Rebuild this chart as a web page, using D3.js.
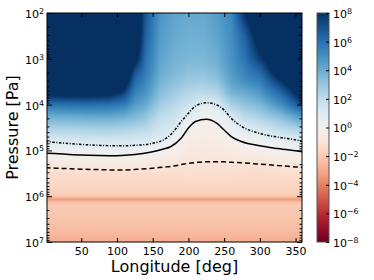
<!DOCTYPE html>
<html>
<head>
<meta charset="utf-8">
<script src="https://cdn.jsdelivr.net/npm/d3@7"></script>
<style>
  body { margin: 0; background: #fff; }
  svg text { font-family: "DejaVu Sans", sans-serif; fill: #000; }
</style>
</head>
<body>
<div id="chart"></div>
<script>
// longitude of each field column [deg]
const lons = [0, 30, 60, 90, 110, 125, 140, 160, 180, 200, 220, 240, 260, 280, 300, 330, 360];
// log10 pressure levels [Pa]
const levels = [2, 2.5, 3, 3.25, 3.5, 3.75, 4, 4.25, 4.5, 4.75, 5, 5.25, 5.5, 5.75, 5.95, 6.0, 6.07, 6.14, 6.2, 6.5, 6.75, 7];
// log10 of the mapped quantity, one row per longitude, one value per level
const field = [
  [10, 10, 10, 10, 10, 8.6, 5.8, 4.0, 2.6, 1.3, 0.25, -0.6, -1.3, -1.55, -1.85, -2.2, -3.4, -2.3, -2.0, -2.2, -2.5, -2.9],
  [10, 10, 10, 10, 10, 8.7, 6.0, 4.1, 2.7, 1.4, 0.35, -0.55, -1.35, -1.55, -1.85, -2.2, -3.4, -2.3, -2.0, -2.2, -2.5, -2.9],
  [10, 10, 10, 10, 10, 8.7, 6.1, 4.2, 2.8, 1.5, 0.4, -0.5, -1.35, -1.55, -1.85, -2.2, -3.4, -2.3, -2.0, -2.2, -2.5, -2.9],
  [10, 10, 10, 10, 10, 8.5, 6.0, 4.2, 2.8, 1.55, 0.45, -0.45, -1.4, -1.55, -1.85, -2.2, -3.4, -2.3, -2.0, -2.2, -2.5, -2.9],
  [10, 10, 10, 10, 9.2, 7.4, 5.6, 4.0, 2.7, 1.5, 0.45, -0.45, -1.4, -1.55, -1.85, -2.2, -3.4, -2.3, -2.0, -2.2, -2.5, -2.9],
  [10, 10, 8.8, 7.2, 6.2, 5.4, 4.6, 3.6, 2.5, 1.4, 0.4, -0.5, -1.35, -1.55, -1.85, -2.2, -3.4, -2.3, -2.0, -2.2, -2.5, -2.9],
  [6.8, 6.5, 6.0, 5.7, 5.3, 4.8, 4.1, 3.2, 2.3, 1.3, 0.3, -0.55, -1.35, -1.55, -1.85, -2.2, -3.4, -2.3, -2.0, -2.2, -2.5, -2.9],
  [4.8, 4.6, 4.3, 4.1, 3.8, 3.4, 2.8, 2.1, 1.5, 1.1, 0.0, -0.7, -1.3, -1.55, -1.85, -2.2, -3.4, -2.3, -2.0, -2.2, -2.5, -2.9],
  [4.3, 4.1, 3.8, 3.6, 3.3, 2.8, 2.2, 1.7, 1.25, 0.4, -0.3, -0.85, -1.3, -1.55, -1.85, -2.2, -3.4, -2.3, -2.0, -2.2, -2.5, -2.9],
  [4.1, 3.9, 3.6, 3.3, 2.9, 2.3, 1.6, 0.85, 0.03, -0.4, -0.7, -0.95, -1.25, -1.55, -1.85, -2.2, -3.4, -2.3, -2.0, -2.2, -2.5, -2.9],
  [4.1, 3.9, 3.6, 3.3, 2.8, 2.1, 0.95, 0.25, -0.3, -0.55, -0.8, -1.0, -1.25, -1.55, -1.85, -2.2, -3.4, -2.3, -2.0, -2.2, -2.5, -2.9],
  [4.5, 4.3, 3.9, 3.6, 3.1, 2.3, 1.1, 0.45, -0.15, -0.5, -0.78, -1.0, -1.25, -1.55, -1.85, -2.2, -3.4, -2.3, -2.0, -2.2, -2.5, -2.9],
  [5.2, 5.0, 4.8, 4.6, 4.3, 3.7, 2.6, 1.2, 0.55, -0.1, -0.6, -0.97, -1.25, -1.55, -1.85, -2.2, -3.4, -2.3, -2.0, -2.2, -2.5, -2.9],
  [8.2, 6.6, 6.0, 5.5, 5.0, 4.0, 3.2, 2.2, 1.1, 0.25, -0.45, -0.95, -1.35, -1.55, -1.85, -2.2, -3.4, -2.3, -2.0, -2.2, -2.5, -2.9],
  [10, 9.0, 7.6, 6.4, 5.5, 4.6, 3.6, 2.6, 1.5, 0.5, -0.3, -0.9, -1.35, -1.55, -1.85, -2.2, -3.4, -2.3, -2.0, -2.2, -2.5, -2.9],
  [10, 10, 10, 9.5, 7.8, 6.3, 5.0, 3.5, 2.2, 0.85, -0.1, -0.75, -1.3, -1.55, -1.85, -2.2, -3.4, -2.3, -2.0, -2.2, -2.5, -2.9],
  [10, 10, 10, 10, 10, 9.0, 7.2, 4.8, 3.0, 1.3, 0.2, -0.55, -1.3, -1.55, -1.85, -2.2, -3.4, -2.3, -2.0, -2.2, -2.5, -2.9]
];

// contour lines: log10 pressure at each longitude
const contourLon = [0, 25, 50, 75, 100, 125, 150, 165, 175, 190, 200, 210, 225, 240, 250, 260, 275, 300, 325, 350, 360];
const dashDotLogP = [4.81, 4.84, 4.87, 4.89, 4.90, 4.89, 4.845, 4.77, 4.66, 4.37, 4.19, 4.03, 3.96, 4.01, 4.12, 4.30, 4.48, 4.63, 4.71, 4.77, 4.81];
const solidLogP = [5.06, 5.08, 5.10, 5.11, 5.115, 5.09, 5.03, 4.97, 4.92, 4.73, 4.51, 4.37, 4.32, 4.41, 4.555, 4.70, 4.81, 4.90, 4.96, 5.01, 5.03];
const dashedLogP = [5.38, 5.395, 5.41, 5.42, 5.43, 5.415, 5.39, 5.365, 5.35, 5.31, 5.28, 5.265, 5.25, 5.25, 5.25, 5.26, 5.27, 5.30, 5.33, 5.36, 5.37];

// ticks
const xTicks = [50, 100, 150, 200, 250, 300, 350];
const yTicks = [1e2, 1e3, 1e4, 1e5, 1e6, 1e7];
const cbTicks = [-8, -6, -4, -2, 0, 2, 4, 6, 8];

const width = 374, height = 280;
const margin = {left: 47, right: 302, top: 13, bottom: 242};
const cbar = {x0: 317, x1: 329};

const svg = d3.select("#chart").append("svg")
  .attr("width", width)
  .attr("height", height);

const x = d3.scaleLinear().domain([2, 359]).range([margin.left, margin.right]);
const y = d3.scaleLog().domain([1e2, 1e7]).range([margin.top, margin.bottom]);
const cy = d3.scaleLinear().domain([-8, 8]).range([margin.bottom, margin.top]);
const colour = v => d3.interpolateRdBu(Math.max(0, Math.min(1, (v + 8) / 16)));

// heat map, shaded smoothly between the grid nodes
const W = margin.right - margin.left, H = margin.bottom - margin.top;
const canvas = document.createElement("canvas");
canvas.width = W; canvas.height = H;
const ctx = canvas.getContext("2d");
const img = ctx.createImageData(W, H);
const colScales = field.map(col => d3.scaleLinear().domain(levels).range(col).clamp(true));
for (let j = 0; j < H; j++) {
  const lp = Math.log10(y.invert(margin.top + j + 0.5));
  const rowScale = d3.scaleLinear().domain(lons).range(colScales.map(s => s(lp)));
  for (let i = 0; i < W; i++) {
    const c = d3.rgb(colour(rowScale(x.invert(margin.left + i + 0.5))));
    const k = 4 * (j * W + i);
    img.data[k] = c.r; img.data[k + 1] = c.g; img.data[k + 2] = c.b; img.data[k + 3] = 255;
  }
}
ctx.putImageData(img, 0, 0);
svg.append("image")
  .attr("x", margin.left).attr("y", margin.top)
  .attr("width", W).attr("height", H)
  .attr("preserveAspectRatio", "none")
  .attr("href", canvas.toDataURL());

// contours
svg.append("clipPath").attr("id", "plotclip")
  .append("rect").attr("x", margin.left).attr("y", margin.top).attr("width", W).attr("height", H);

const line = d3.line()
  .x((d, i) => x(contourLon[i]))
  .y(d => y(Math.pow(10, d)))
  .curve(d3.curveMonotoneX);

[[dashDotLogP, "2.5,1.6,1,1.6"], [solidLogP, null], [dashedLogP, "5,3"]].forEach(([vals, dash]) => {
  svg.append("path")
    .attr("clip-path", "url(#plotclip)")
    .attr("d", line(vals))
    .attr("fill", "none")
    .attr("stroke", "#000")
    .attr("stroke-width", 1.5)
    .attr("stroke-dasharray", dash);
});

// superscript labels like 10^5
function powerLabel(text, exp) {
  text.text(null);
  text.append("tspan").text("10");
  text.append("tspan").attr("dy", "-0.5em").attr("font-size", "0.72em")
    .text(String(exp).replace("-", "\u2212"));
}

// axes (ticks point inward on all sides)
const minorY = [];
for (let d = 2; d < 7; d++) for (let m = 2; m < 10; m++) minorY.push(m * Math.pow(10, d));

svg.append("g").attr("transform", `translate(0,${margin.bottom})`)
  .call(d3.axisBottom(x).tickValues(xTicks).tickSize(-4).tickPadding(5))
  .attr("font-size", 11);
svg.append("g").attr("transform", `translate(0,${margin.top})`)
  .call(d3.axisTop(x).tickValues(xTicks).tickSize(-4).tickFormat(""));

const gy = svg.append("g").attr("transform", `translate(${margin.left},0)`)
  .call(d3.axisLeft(y).tickValues(yTicks).tickSize(-5).tickPadding(3))
  .attr("font-size", 11);
gy.selectAll(".tick text").attr("dy", "0.4em").each(function(d) { powerLabel(d3.select(this), Math.round(Math.log10(d))); });
svg.append("g").attr("transform", `translate(${margin.left},0)`)
  .call(d3.axisLeft(y).tickValues(minorY).tickSize(-2.5).tickFormat(""));
svg.append("g").attr("transform", `translate(${margin.right},0)`)
  .call(d3.axisRight(y).tickValues(yTicks).tickSize(-5).tickFormat(""));
svg.append("g").attr("transform", `translate(${margin.right},0)`)
  .call(d3.axisRight(y).tickValues(minorY).tickSize(-2.5).tickFormat(""));

svg.selectAll(".domain").remove();
svg.selectAll(".tick line").attr("stroke", "#000");

svg.append("rect")
  .attr("x", margin.left).attr("y", margin.top).attr("width", W).attr("height", H)
  .attr("fill", "none").attr("stroke", "#000").attr("stroke-width", 1);

// colour bar
const grad = svg.append("defs").append("linearGradient")
  .attr("id", "cbgrad").attr("x1", 0).attr("y1", 1).attr("x2", 0).attr("y2", 0);
d3.range(0, 1.0001, 1 / 32).forEach(t => {
  grad.append("stop").attr("offset", t).attr("stop-color", d3.interpolateRdBu(t));
});
svg.append("rect")
  .attr("x", cbar.x0).attr("y", margin.top)
  .attr("width", cbar.x1 - cbar.x0).attr("height", H)
  .attr("fill", "url(#cbgrad)")
  .attr("stroke", "#555").attr("stroke-width", 1);

const gc = svg.append("g").attr("transform", `translate(${cbar.x1},0)`)
  .call(d3.axisRight(cy).tickValues(cbTicks).tickSize(-3).tickPadding(4))
  .attr("font-size", 11);
gc.select(".domain").remove();
gc.selectAll(".tick line").attr("stroke", "#000");
gc.selectAll(".tick text").attr("dy", "0.4em").each(function(d) { powerLabel(d3.select(this), d); });

// axis titles
svg.append("text")
  .attr("x", (margin.left + margin.right) / 2).attr("y", 272)
  .attr("text-anchor", "middle").attr("font-size", 16)
  .text("Longitude [deg]");
svg.append("text")
  .attr("transform", `translate(18,${(margin.top + margin.bottom) / 2}) rotate(-90)`)
  .attr("text-anchor", "middle").attr("font-size", 16)
  .text("Pressure [Pa]");
</script>
</body>
</html>
